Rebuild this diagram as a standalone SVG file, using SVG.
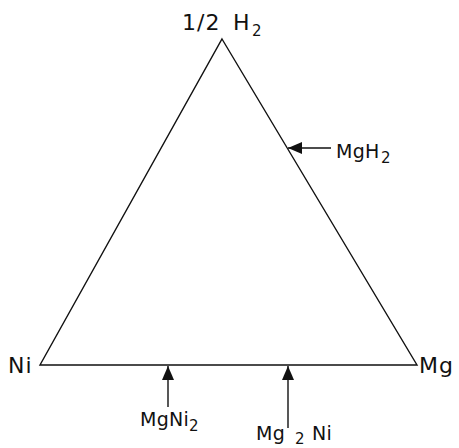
<svg xmlns="http://www.w3.org/2000/svg" width="459" height="448" viewBox="0 0 459 448">
<style>
text{font-family:"DejaVu Sans","Liberation Sans",sans-serif;fill:#111}
.big{font-size:22px;letter-spacing:1px}
.sm{font-size:19px;letter-spacing:0.3px}
.sub{font-size:15px;letter-spacing:0}
.line{stroke:#111;stroke-width:1.4;fill:none}
</style>
<defs>
<marker id="ah" viewBox="0 0 14 12" refX="14" refY="6" markerWidth="14" markerHeight="12" markerUnits="userSpaceOnUse" orient="auto">
<path d="M0,0 L14,6 L0,12 Z" fill="#111"/>
</marker>
</defs>
<g id="triangle">
<path class="line" d="M222,39 L417,365 L40,365 Z"/>
</g>
<g id="connectors">
<line class="line" x1="331" y1="148" x2="288" y2="148" marker-end="url(#ah)"/>
<line class="line" x1="168" y1="407" x2="168" y2="366" marker-end="url(#ah)"/>
<line class="line" x1="288" y1="428" x2="288" y2="366" marker-end="url(#ah)"/>
</g>
<g id="label-h2"><text class="big" x="182" y="30">1/2</text><text class="big" x="233" y="30">H</text><text class="sub" x="252" y="36">2</text></g>
<g id="label-ni"><text class="big" x="8" y="373">Ni</text></g>
<g id="label-mg"><text class="big" x="419" y="373">Mg</text></g>
<g id="label-mgh2"><text class="sm" x="336" y="158">MgH</text><text class="sub" x="381" y="163">2</text></g>
<g id="label-mgni2"><text class="sm" x="140" y="426">MgNi</text><text class="sub" x="189" y="431">2</text></g>
<g id="label-mg2ni"><text class="sm" x="256" y="440">Mg</text><text class="sub" x="295" y="444">2</text><text class="sm" x="312" y="440">Ni</text></g>
</svg>
